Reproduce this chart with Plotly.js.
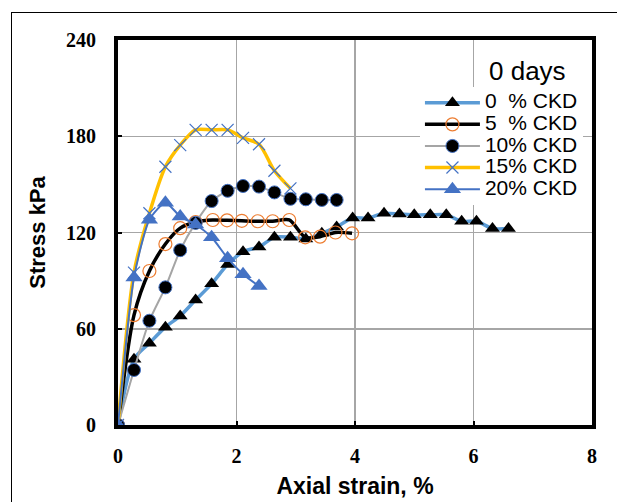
<!DOCTYPE html>
<html>
<head>
<meta charset="utf-8">
<script src="https://cdn.plot.ly/plotly-3.0.1.min.js"></script>
<style>
body{margin:0;padding:0;background:#fff;overflow:hidden;}
#wrap{position:relative;width:617px;height:502px;}
#chart{position:absolute;left:0;top:0;width:617px;height:502px;}
#frame{position:absolute;left:11px;top:12px;width:620px;height:500px;border-left:1.5px solid #000;border-top:1.5px solid #000;pointer-events:none;}
</style>
</head>
<body>
<div id="wrap"><div id="chart"></div><div id="frame"></div></div>
<script>
// Data
var names = ["0\u00a0 % CKD", "5\u00a0 % CKD", "10% CKD", "15% CKD", "20% CKD"];

var strain0 = [0, 0.27, 0.53, 0.8, 1.05, 1.31, 1.58, 1.85, 2.11, 2.38, 2.64, 2.91, 3.17, 3.44, 3.69, 3.96, 4.22, 4.49, 4.75, 5.0, 5.27, 5.54, 5.8, 6.05, 6.32, 6.59];
var stress0 = [0, 41, 51, 61, 68, 78, 88, 100, 108, 111, 117, 117, 116, 119.5, 123.5, 129, 129, 132, 131.5, 131, 131, 131, 127, 127, 122.5, 122.5];

var strain5 = [0, 0.27, 0.53, 0.8, 1.05, 1.31, 1.6, 1.84, 2.09, 2.36, 2.61, 2.89, 3.16, 3.41, 3.67, 3.95];
var stress5 = [0, 68.5, 96, 112.8, 122.7, 126.5, 127.8, 127.6, 127.3, 127, 127, 127.8, 117, 117.4, 120, 119.5];

var strain10 = [0, 0.27, 0.53, 0.8, 1.05, 1.31, 1.58, 1.85, 2.11, 2.38, 2.64, 2.91, 3.17, 3.44, 3.69];
var stress10 = [0, 34.3, 65, 85.8, 109, 126, 139.6, 146, 149, 148.6, 145, 141, 140.7, 140.3, 140.3];

var strain15 = [0, 0.27, 0.53, 0.8, 1.05, 1.31, 1.58, 1.85, 2.11, 2.38, 2.64, 2.91];
var stress15 = [0, 95, 132, 161, 174.5, 184, 184, 184, 179, 175, 158.5, 147.5];

var strain20 = [0, 0.27, 0.53, 0.8, 1.05, 1.31, 1.58, 1.85, 2.11, 2.38];
var stress20 = [0, 92, 128, 138.6, 130, 125, 117, 104, 94, 86.6];

var xTicks = [0, 2, 4, 6, 8];
var yTicks = [0, 60, 120, 180, 240];

function legendName(s) { return '<span style="font-size:21px">' + s + '</span>'; }

var traces = [
  {x: strain0, y: stress0, name: legendName(names[0]), mode: "lines+markers",
   line: {color: "#5B9BD5", width: 3.5, shape: "spline", smoothing: 0.8},
   marker: {symbol: "triangle-up", size: 13, color: "#000"}},
  {x: strain5, y: stress5, name: legendName(names[1]), mode: "lines+markers",
   line: {color: "#000", width: 3.5, shape: "spline", smoothing: 0.8},
   marker: {symbol: "circle-open", size: 13, color: "#ED7D31", line: {width: 1.2}}},
  {x: strain10, y: stress10, name: legendName(names[2]), mode: "lines+markers",
   line: {color: "#A5A5A5", width: 2, shape: "spline", smoothing: 0.6},
   marker: {symbol: "circle", size: 13, color: "#000", line: {color: "#4472C4", width: 1}}},
  {x: strain15, y: stress15, name: legendName(names[3]), mode: "lines+markers",
   line: {color: "#FFC000", width: 3.5, shape: "spline", smoothing: 0.8},
   marker: {symbol: "x-thin", size: 12, color: "#4472C4", line: {color: "#4472C4", width: 1.2}}},
  {x: strain20, y: stress20, name: legendName(names[4]), mode: "lines+markers",
   line: {color: "#4472C4", width: 2, shape: "spline", smoothing: 0.6},
   marker: {symbol: "triangle-up", size: 15, color: "#4472C4"}}
];

var tickFont = {family: "Liberation Serif, Times New Roman, serif", size: 20, color: "#000", weight: "bold"};
var titleFont = {family: "Liberation Sans, Arial, sans-serif", size: 22, color: "#000", weight: "bold"};

var layout = {
  width: 617, height: 502,
  margin: {l: 118, r: 25, t: 40, b: 77},
  paper_bgcolor: "#fff", plot_bgcolor: "#fff",
  showlegend: true,
  xaxis: {
    range: [0, 8], tickvals: xTicks, ticktext: xTicks.map(String),
    showgrid: true, gridcolor: "#A6A6A6", gridwidth: 1.5,
    zeroline: false, showline: true, linecolor: "#000", linewidth: 4, mirror: true,
    ticks: "inside", ticklen: 4, tickwidth: 2, tickcolor: "#000",
    tickfont: tickFont, ticklabelstandoff: 10,
    title: {text: "Axial strain, %", font: {family: titleFont.family, size: 23, color: "#000", weight: "bold"}, standoff: 13}
  },
  yaxis: {
    range: [0, 240], tickvals: yTicks, ticktext: yTicks.map(String),
    showgrid: true, gridcolor: "#A6A6A6", gridwidth: 1.5,
    zeroline: false, showline: true, linecolor: "#000", linewidth: 4, mirror: true,
    ticks: "inside", ticklen: 4, tickwidth: 2, tickcolor: "#000",
    tickfont: tickFont, ticklabelstandoff: 14,
    title: {text: "Stress kPa", font: titleFont, standoff: 15}
  },
  legend: {
    x: 0.637, xanchor: "left", y: 0.878, yanchor: "top",
    bgcolor: "#fff", borderwidth: 0,
    font: {family: "Liberation Sans, Arial, sans-serif", size: 14.3, color: "#000"},
    itemwidth: 55, tracegroupgap: 0, entrywidth: 186, entrywidthmode: "pixels"
  },
  annotations: [{
    xref: "paper", yref: "paper", x: 0.863, y: 0.919, xanchor: "center", yanchor: "middle",
    text: "0 days", showarrow: false,
    font: {family: "Liberation Sans, Arial, sans-serif", size: 26, color: "#000"}
  }]
};

Plotly.newPlot("chart", traces, layout, {displayModeBar: false, staticPlot: true});
</script>
</body>
</html>
